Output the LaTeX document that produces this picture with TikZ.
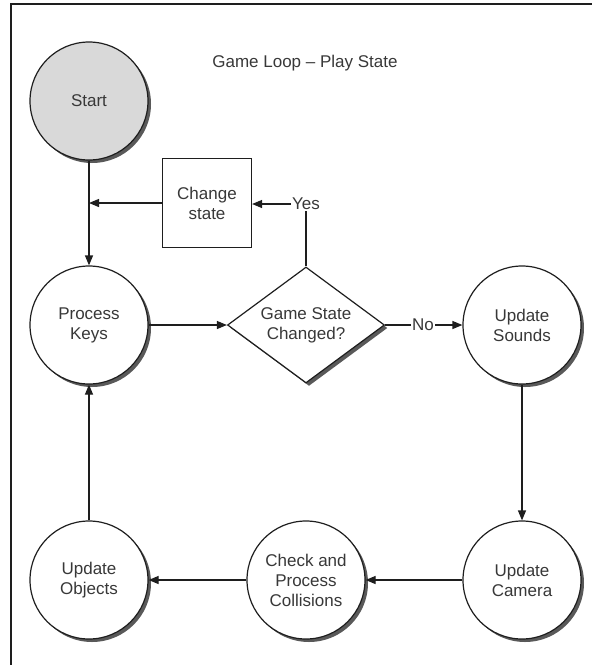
\documentclass[tikz,border=0pt]{standalone}
\usepackage{fontspec}
\setmainfont{Liberation Sans}
\usetikzlibrary{shapes.geometric,shadows,arrows.meta}
\definecolor{txt}{HTML}{383838}
\definecolor{ln}{HTML}{1E1E1E}
\definecolor{startfill}{HTML}{D9D9D9}
\begin{document}
\begin{tikzpicture}[x=1pt,y=-1pt,
  every node/.style={font=\fontsize{17}{20}\selectfont, text=txt},
  shd/.style={drop shadow={shadow xshift=3pt,shadow yshift=-3pt,fill=black!65,opacity=1}},
  proc/.style={circle, draw=ln, line width=1.2pt, fill=white, minimum size=118pt, inner sep=0pt, align=center, shd},
  decis/.style={diamond, draw=ln, line width=1.2pt, fill=white, aspect=1.35, minimum width=157pt, minimum height=116pt, inner sep=0pt, align=center, shd},
  boxnode/.style={rectangle, draw=ln, line width=1.2pt, fill=white, minimum width=89pt, minimum height=89pt, inner sep=0pt, align=center},
  lbl/.style={inner sep=1pt, fill=white},
  conn/.style={draw=ln, line width=1.2pt},
  arr/.style={conn, -{Triangle[length=10pt,width=8pt]}}
]
\useasboundingbox (0,0) rectangle (592,665);
\draw[ln, line width=1.2pt] (11,665) -- (11,4) -- (592,4);

\node (title) at (305,63) {Game Loop – Play State};

\node[proc, fill=startfill] (start) at (89,101) {Start};
\node[proc] (pk) at (89,325) {Process\\Keys};
\node[decis] (gsc) at (306,325) {Game State\\Changed?};
\node[proc] (us) at (522,325) {Update\\Sounds};
\node[proc] (uc) at (522,580) {Update\\Camera};
\node[proc] (cpc) at (306,580) {Check and\\Process\\Collisions};
\node[proc] (uo) at (89,580) {Update\\Objects};
\node[boxnode] (cs) at (207,203) {Change\\state};

\node[lbl] (yes) at (306,204) {Yes};
\node[lbl] (no) at (423,325) {No};

\draw[arr] (start) -- (pk);
\draw[conn] (gsc.north) -- (yes.south);
\draw[arr] (yes.west) -- (cs.east |- yes.west);
\draw[arr] (cs.west) -- (start.south |- cs.west);
\draw[arr] (pk) -- (gsc);
\draw[conn] (gsc.east) -- (no.west);
\draw[arr] (no.east) -- (us);
\draw[arr] (us) -- (uc);
\draw[arr] (uc) -- (cpc);
\draw[arr] (cpc) -- (uo);
\draw[arr] (uo) -- (pk);
\end{tikzpicture}
\end{document}
